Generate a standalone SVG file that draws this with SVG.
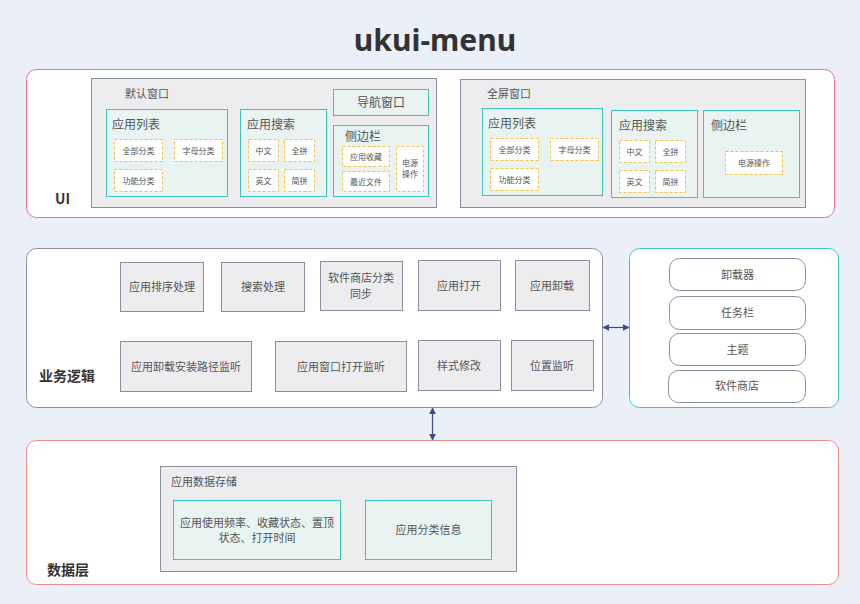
<svg xmlns="http://www.w3.org/2000/svg" width="860" height="604" viewBox="0 0 860 604">
<defs>
<style>
text{font-family:"Noto Sans CJK SC","Noto Sans",sans-serif;fill:#555;}
.t{font-family:"Noto Sans","Open Sans",sans-serif;font-weight:bold;font-size:30px;fill:#333;}
.lay{fill:#fff;stroke-width:1;}
.win{fill:#EDEDF0;stroke:#8E8CA0;stroke-width:1;}
.sub{fill:#E8F3F2;stroke:#3CC5C0;stroke-width:1;}
.dash{fill:#fff;stroke:#F5C142;stroke-width:1;stroke-dasharray:3 2;}
.biz{fill:#EDEDF0;stroke:#8E8CA0;stroke-width:1;}
.ext{fill:#fff;stroke:#8E8CA0;stroke-width:1;}
.lbl{font-size:14px;font-weight:bold;fill:#333;}
.f12{font-size:12px;}
.f11{font-size:11px;}
.f8{font-size:8px;}
.c{text-anchor:middle;}
.conn{stroke:#3B4A8A;stroke-width:1.2;fill:none;}
</style>
<marker id="ah" viewBox="0 0 10 10" refX="9" refY="5" markerWidth="6" markerHeight="6" orient="auto-start-reverse">
<path d="M0,0 L10,5 L0,10 z" fill="#3B4A8A"/>
</marker>
</defs>
<rect width="860" height="604" fill="#EBEFF7"/>
<text class="t c" x="435" y="51">ukui-menu</text>

<g id="ui-layer">
<rect class="lay" x="26.5" y="69.5" width="808" height="148" rx="10" stroke="#E8748A"/>
<text class="lbl" x="55" y="204">UI</text>
</g>

<g id="default-window">
<rect class="win" x="91.5" y="78.5" width="345" height="129"/>
<text class="f11" x="125" y="98">默认窗口</text>
<g id="dw-list">
<rect class="sub" x="106.5" y="109.5" width="121" height="87"/>
<text class="f12" x="112" y="129">应用列表</text>
<rect class="dash" x="114.5" y="139.5" width="48" height="22"/><text class="f8 c" x="138.5" y="153.5">全部分类</text>
<rect class="dash" x="174.5" y="139.5" width="48" height="22"/><text class="f8 c" x="198.5" y="153.5">字母分类</text>
<rect class="dash" x="114.5" y="169.5" width="48" height="22"/><text class="f8 c" x="138.5" y="183.5">功能分类</text>
</g>
<g id="dw-search">
<rect class="sub" x="240.5" y="109.5" width="86" height="87"/>
<text class="f12" x="247" y="129">应用搜索</text>
<rect class="dash" x="248.5" y="139.5" width="30" height="22"/><text class="f8 c" x="263.5" y="153.5">中文</text>
<rect class="dash" x="284.5" y="139.5" width="30" height="22"/><text class="f8 c" x="299.5" y="153.5">全拼</text>
<rect class="dash" x="248.5" y="169.5" width="30" height="22"/><text class="f8 c" x="263.5" y="183.5">英文</text>
<rect class="dash" x="284.5" y="169.5" width="30" height="22"/><text class="f8 c" x="299.5" y="183.5">简拼</text>
</g>
<g id="dw-nav">
<rect class="sub" x="333.5" y="89.5" width="95" height="26"/>
<text class="f12 c" x="381" y="107">导航窗口</text>
</g>
<g id="dw-side">
<rect class="sub" x="333.5" y="125.5" width="95" height="71"/>
<text class="f12" x="345" y="141">侧边栏</text>
<rect class="dash" x="342.5" y="146.5" width="47" height="20"/><text class="f8 c" x="366" y="159.5">应用收藏</text>
<rect class="dash" x="342.5" y="171.5" width="47" height="20"/><text class="f8 c" x="366" y="184.5">最近文件</text>
<rect class="dash" x="396.5" y="146.5" width="27" height="45"/><text class="f8 c" x="410" y="166">电源</text><text class="f8 c" x="410" y="177">操作</text>
</g>
</g>

<g id="fullscreen-window">
<rect class="win" x="460.5" y="79.5" width="345" height="128"/>
<text class="f11" x="487" y="98">全屏窗口</text>
<g id="fw-list">
<rect class="sub" x="482.5" y="108.5" width="120" height="87"/>
<text class="f12" x="488" y="128">应用列表</text>
<rect class="dash" x="490.5" y="138.5" width="48" height="22"/><text class="f8 c" x="514.5" y="152.5">全部分类</text>
<rect class="dash" x="550.5" y="138.5" width="48" height="22"/><text class="f8 c" x="574.5" y="152.5">字母分类</text>
<rect class="dash" x="490.5" y="168.5" width="48" height="22"/><text class="f8 c" x="514.5" y="182.5">功能分类</text>
</g>
<g id="fw-search">
<rect class="sub" x="611.5" y="110.5" width="86" height="87"/>
<text class="f12" x="619" y="130">应用搜索</text>
<rect class="dash" x="619.5" y="140.5" width="30" height="22"/><text class="f8 c" x="634.5" y="154.5">中文</text>
<rect class="dash" x="655.5" y="140.5" width="30" height="22"/><text class="f8 c" x="670.5" y="154.5">全拼</text>
<rect class="dash" x="619.5" y="170.5" width="30" height="22"/><text class="f8 c" x="634.5" y="184.5">英文</text>
<rect class="dash" x="655.5" y="170.5" width="30" height="22"/><text class="f8 c" x="670.5" y="184.5">简拼</text>
</g>
<g id="fw-side">
<rect class="sub" x="703.5" y="110.5" width="96" height="87"/>
<text class="f12" x="711" y="130">侧边栏</text>
<rect class="dash" x="725.5" y="151.5" width="57" height="23"/><text class="f8 c" x="754" y="166">电源操作</text>
</g>
</g>

<g id="business-layer">
<rect class="lay" x="26.5" y="248.5" width="576" height="159" rx="10" stroke="#8E8CA0"/>
<text class="lbl" x="39" y="381">业务逻辑</text>
</g>
<g id="b-sort"><rect class="biz" x="120.5" y="262.5" width="83" height="49"/><text class="f11 c" x="162" y="291">应用排序处理</text></g>
<g id="b-search"><rect class="biz" x="221.5" y="262.5" width="83" height="49"/><text class="f11 c" x="263" y="291">搜索处理</text></g>
<g id="b-store"><rect class="biz" x="320.5" y="261.5" width="82" height="49"/><text class="f11 c" x="361" y="282">软件商店分类</text><text class="f11 c" x="361" y="298">同步</text></g>
<g id="b-open"><rect class="biz" x="418.5" y="260.5" width="82" height="50"/><text class="f11 c" x="459" y="290">应用打开</text></g>
<g id="b-uninstall"><rect class="biz" x="515.5" y="260.5" width="74" height="50"/><text class="f11 c" x="552" y="290">应用卸载</text></g>
<g id="b-path"><rect class="biz" x="120.5" y="341.5" width="131" height="50"/><text class="f11 c" x="186" y="371">应用卸载安装路径监听</text></g>
<g id="b-winopen"><rect class="biz" x="275.5" y="341.5" width="131" height="50"/><text class="f11 c" x="341" y="371">应用窗口打开监听</text></g>
<g id="b-style"><rect class="biz" x="418.5" y="340.5" width="82" height="50"/><text class="f11 c" x="459" y="370">样式修改</text></g>
<g id="b-pos"><rect class="biz" x="511.5" y="340.5" width="82" height="50"/><text class="f11 c" x="552" y="370">位置监听</text></g>

<g id="external">
<rect class="lay" x="629.5" y="248.5" width="209" height="159" rx="10" stroke="#3CC5C0"/>
</g>
<g id="e-uninstaller"><rect class="ext" x="669.5" y="258.5" width="136" height="32" rx="10"/><text class="f11 c" x="737.5" y="279">卸载器</text></g>
<g id="e-taskbar"><rect class="ext" x="669.5" y="296.5" width="136" height="33" rx="10"/><text class="f11 c" x="737.5" y="317">任务栏</text></g>
<g id="e-theme"><rect class="ext" x="669.5" y="333.5" width="136" height="32" rx="10"/><text class="f11 c" x="737.5" y="354">主题</text></g>
<g id="e-store"><rect class="ext" x="668.5" y="370.5" width="137" height="32" rx="10"/><text class="f11 c" x="737" y="390">软件商店</text></g>

<g id="data-layer">
<rect class="lay" x="26.5" y="440.5" width="812" height="144" rx="10" stroke="#EE8C8C"/>
<text class="lbl" x="47" y="575">数据层</text>
</g>
<g id="storage">
<rect class="win" x="160.5" y="466.5" width="356" height="105"/>
<text class="f11" x="171" y="486">应用数据存储</text>
<g id="s-usage"><rect class="sub" x="173.5" y="500.5" width="167" height="59"/><text class="f11 c" x="257" y="527">应用使用频率、收藏状态、置顶</text><text class="f11 c" x="257" y="542">状态、打开时间</text></g>
<g id="s-category"><rect class="sub" x="365.5" y="500.5" width="126" height="59"/><text class="f11 c" x="428.5" y="534">应用分类信息</text></g>
</g>

<g id="connectors">
<line class="conn" x1="603" y1="327.5" x2="629" y2="327.5" marker-start="url(#ah)" marker-end="url(#ah)"/>
<line class="conn" x1="432.5" y1="408" x2="432.5" y2="440" marker-start="url(#ah)" marker-end="url(#ah)"/>
</g>
</svg>
